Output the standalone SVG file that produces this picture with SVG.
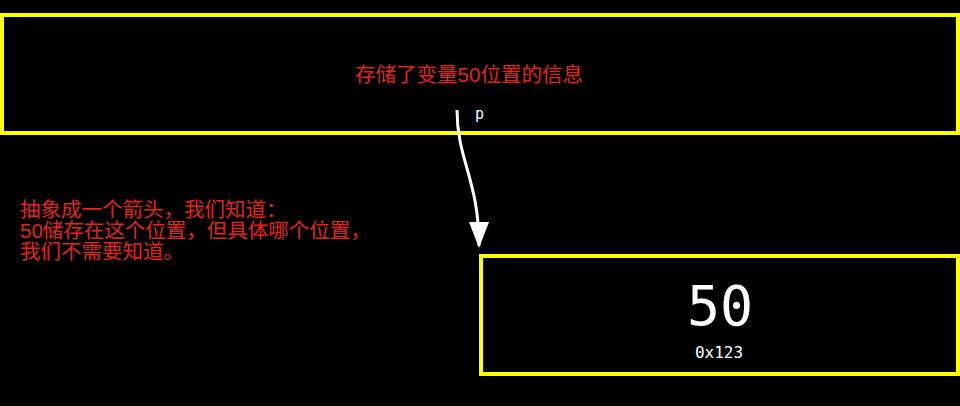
<svg xmlns="http://www.w3.org/2000/svg" width="960" height="406" viewBox="0 0 960 406">
<style>
.box{fill:#000;stroke:#ffff00;stroke-width:4}
.red{fill:#e0261c;font-family:"Liberation Sans","Noto Sans CJK SC",sans-serif;font-size:20.5px}
.mono{fill:#fff;font-family:"DejaVu Sans Mono",monospace}
</style>
<defs>
<marker id="ah" markerWidth="26" markerHeight="20" refX="24" refY="10" orient="auto" markerUnits="userSpaceOnUse" viewBox="0 0 26 20">
<polygon points="0,0 26,10 0,20" fill="#fff"/>
</marker>
</defs>
<rect width="960" height="406" fill="#000"/>
<g id="variable">
<rect class="box" x="2" y="15" width="956" height="118"/>
<text class="red" x="469" y="82" text-anchor="middle">存储了变量50位置的信息</text>
</g>
<g id="value">
<rect class="box" x="481" y="256" width="477" height="118"/>
<text class="mono" x="720" y="325" font-size="55" text-anchor="middle">50</text>
<text class="mono" x="719" y="358" font-size="16" text-anchor="middle">0x123</text>
</g>
<g id="note">
<text class="red" x="20" y="217">抽象成一个箭头，我们知道：</text>
<text class="red" x="20" y="238">50储存在这个位置，但具体哪个位置，</text>
<text class="red" x="20" y="259">我们不需要知道。</text>
</g>
<g id="connectors">
<path d="M457,110 C457,160 479,180 479,246" fill="none" stroke="#fff" stroke-width="3" marker-end="url(#ah)"/>
<text class="mono" x="475" y="119" font-size="15">p</text>
</g>
</svg>
